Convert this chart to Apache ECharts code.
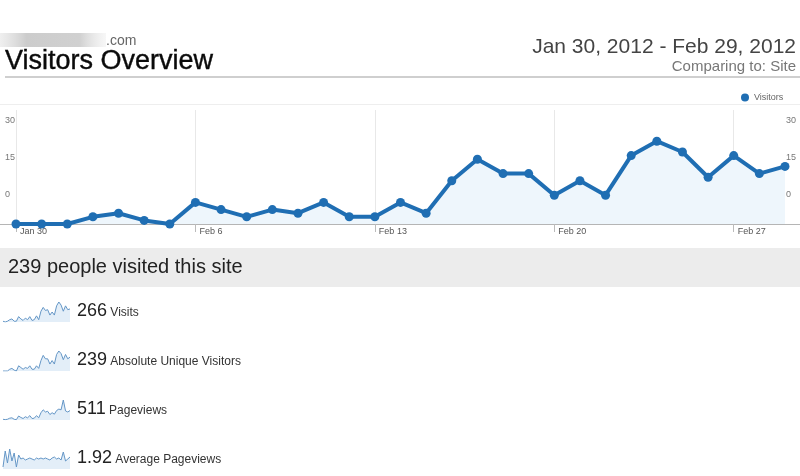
<!DOCTYPE html>
<html><head><meta charset="utf-8">
<script src="https://cdn.jsdelivr.net/npm/echarts@6/dist/echarts.min.js"></script>
<style>html,body{margin:0;padding:0;background:#fff}#c{width:800px;height:476px}</style>
</head><body><div id="c"></div>
<script>
const categories = ['Jan 30','Jan 31','Feb 1','Feb 2','Feb 3','Feb 4','Feb 5','Feb 6','Feb 7','Feb 8','Feb 9','Feb 10','Feb 11','Feb 12','Feb 13','Feb 14','Feb 15','Feb 16','Feb 17','Feb 18','Feb 19','Feb 20','Feb 21','Feb 22','Feb 23','Feb 24','Feb 25','Feb 26','Feb 27','Feb 28','Feb 29'];
const visitors = [0,0,0,2,3,1,0,6,4,2,4,3,6,2,2,6,3,12,18,14,14,8,12,8,19,23,20,13,19,14,16];
const yTickValues = [0,15,30];
const weekStep = 7;
const statValues = ['266','239','511','1.92'];
const statLabels = ['Visits','Absolute Unique Visitors','Pageviews','Average Pageviews'];
const visitsSpark = [1,0,1,3,4,1,1,7,4,2,5,3,7,2,3,8,3,14,19,15,16,9,13,9,21,26,22,14,21,16,17];
const uniqueSpark = [0,0,0,2,3,1,0,6,4,2,4,3,6,2,2,6,3,12,18,14,14,8,12,8,19,23,20,13,19,14,16];
const pageviewsSpark = [2,1,2,5,6,2,1,11,7,4,9,6,12,4,5,12,6,20,28,22,24,15,20,16,26,30,28,55,25,22,26];
const avgSpark = [1.0,2.6,1.4,2.8,1.6,2.4,1.0,2.2,1.8,1.9,1.7,1.8,1.9,1.8,1.7,1.9,1.8,1.9,1.8,1.9,1.8,1.7,1.9,2.0,1.8,1.9,1.7,2.5,1.6,1.8,2.0];

const FONT = '"Liberation Sans", Arial, sans-serif';
const sparks = [visitsSpark, uniqueSpark, pageviewsSpark, avgSpark];
const sparkMin = [0, 0, 0, 0.8];
const rowY = [311, 360, 409, 458];
const isWeek = (i) => i % weekStep === 0;

const grids = [{left: 16, right: 15, top: 110, height: 114}];
rowY.forEach(y => grids.push({left: 3, width: 67, top: y - 9, height: 20}));

const xAxes = [{
  type: 'category', gridIndex: 0, data: categories, boundaryGap: false,
  axisLine: {lineStyle: {color: '#b5b5b5'}},
  axisTick: {interval: isWeek, length: 8, lineStyle: {color: '#bbb'}},
  axisLabel: {interval: isWeek, align: 'left', padding: [0, 0, 0, 4], margin: 3, fontSize: 9, color: '#555', fontFamily: FONT},
  splitLine: {show: true, interval: isWeek, lineStyle: {color: '#e8e8e8'}}
}];
const yAxes = [
  {type: 'value', gridIndex: 0, min: 0, max: 31.67, show: false, splitLine: {show: false}},
  {type: 'value', gridIndex: 0, position: 'left', min: -11.76, max: 34.46,
   axisLine: {show: false}, axisTick: {show: false}, splitLine: {show: false},
   axisLabel: {customValues: yTickValues, align: 'left', margin: 11, fontSize: 9, color: '#777', fontFamily: FONT}},
  {type: 'value', gridIndex: 0, position: 'right', min: -11.76, max: 34.46,
   axisLine: {show: false}, axisTick: {show: false}, splitLine: {show: false},
   axisLabel: {customValues: yTickValues, align: 'left', margin: 1, fontSize: 9, color: '#777', fontFamily: FONT}}
];
const series = [{
  name: 'Visitors', type: 'line', xAxisIndex: 0, yAxisIndex: 0, data: visitors,
  symbol: 'circle', symbolSize: 9, showAllSymbol: true,
  lineStyle: {width: 4, color: '#1f6eb3'}, itemStyle: {color: '#1f6eb3'},
  areaStyle: {color: '#eef6fc', opacity: 1}, z: 3
}];
sparks.forEach((d, i) => {
  xAxes.push({type: 'category', gridIndex: i + 1, data: categories, boundaryGap: false, show: false});
  yAxes.push({type: 'value', gridIndex: i + 1, min: sparkMin[i], max: 'dataMax', show: false, splitLine: {show: false}});
  series.push({type: 'line', xAxisIndex: i + 1, yAxisIndex: i + 3, data: d, showSymbol: false, silent: true,
    lineStyle: {width: 1, color: '#6496c6'}, areaStyle: {color: '#e3eef8', opacity: 1}});
});

const graphic = [
  {type: 'rect', shape: {x: 0, y: 33, width: 106, height: 14}, z: -1,
   style: {fill: new echarts.graphic.LinearGradient(0, 0, 1, 0, [
     {offset: 0, color: 'rgba(215,215,215,0.4)'}, {offset: 0.25, color: 'rgba(195,195,195,0.85)'},
     {offset: 0.75, color: 'rgba(200,200,200,0.85)'}, {offset: 1, color: 'rgba(235,235,235,0.4)'}])}},
  {type: 'text', x: 106, y: 41, style: {text: '.com', font: '14px ' + FONT, fill: '#666', verticalAlign: 'middle'}},
  {type: 'text', x: 5, y: 62, style: {text: 'Visitors Overview', font: '27px ' + FONT, fill: '#0a0a0a', verticalAlign: 'middle', stroke: '#0a0a0a', lineWidth: 0.4}},
  {type: 'line', shape: {x1: 5, y1: 77, x2: 800, y2: 77}, style: {stroke: '#cfcfcf', lineWidth: 2}},
  {type: 'text', x: 796, y: 47, style: {text: 'Jan 30, 2012 - Feb 29, 2012', font: '21px ' + FONT, fill: '#444', align: 'right', verticalAlign: 'middle'}},
  {type: 'text', x: 796, y: 67, style: {text: 'Comparing to: Site', font: '15px ' + FONT, fill: '#777', align: 'right', verticalAlign: 'middle'}},
  {type: 'line', shape: {x1: 0, y1: 104.5, x2: 800, y2: 104.5}, style: {stroke: '#eeeeee', lineWidth: 1}},
  {type: 'line', shape: {x1: 0, y1: 224.5, x2: 800, y2: 224.5}, style: {stroke: '#b5b5b5', lineWidth: 1}},
  {type: 'rect', shape: {x: 0, y: 248, width: 800, height: 39}, style: {fill: '#ececec'}, z: -1},
  {type: 'text', x: 8, y: 267, style: {text: '239 people visited this site', font: '20px ' + FONT, fill: '#222', verticalAlign: 'middle'}}
];
statValues.forEach((v, i) => {
  graphic.push({type: 'text', x: 77, y: rowY[i] + 9, style: {
    text: '{n|' + v + '} {l|' + statLabels[i] + '}', verticalAlign: 'bottom',
    rich: {
      n: {fontSize: 18, fontFamily: FONT, fill: '#222', color: '#222', verticalAlign: 'bottom', lineHeight: 18},
      l: {fontSize: 12, fontFamily: FONT, fill: '#333', color: '#333', verticalAlign: 'bottom', lineHeight: 14, padding: [0, 0, 1, 0]}
    }}});
});

const chart = echarts.init(document.getElementById('c'), null, {renderer: 'canvas'});
chart.setOption({
  animation: false,
  backgroundColor: '#fff',
  textStyle: {fontFamily: FONT},
  legend: {data: ['Visitors'], left: 736, top: 88, icon: 'circle', itemWidth: 8, itemHeight: 8, itemGap: 4,
    textStyle: {fontSize: 9, color: '#666', fontFamily: FONT}},
  grid: grids, xAxis: xAxes, yAxis: yAxes, series: series, graphic: graphic
});
</script></body></html>
